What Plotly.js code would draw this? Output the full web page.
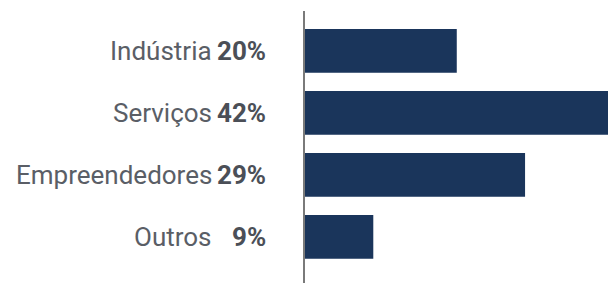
<!DOCTYPE html>
<html>
<head>
<meta charset="utf-8">
<script src="https://cdn.plot.ly/plotly-3.0.1.min.js"></script>
<style>html,body{margin:0;padding:0;background:#fff;}#chart{width:608px;height:283px;}</style>
</head>
<body>
<div id="chart"></div>
<script>
const categories = ["Indústria", "Serviços", "Empreendedores", "Outros"];
const values = [20, 42, 29, 9];
const valueLabels = ["20%", "42%", "29%", "9%"];

const annotations = [];
categories.forEach((c, i) => {
  annotations.push({
    xref: 'paper', yref: 'y', x: 0, y: c, xanchor: 'right', yanchor: 'middle',
    xshift: -91, text: c, showarrow: false,
    font: {family: 'Roboto, sans-serif', size: 26, color: '#5a5e66'}
  });
  annotations.push({
    xref: 'paper', yref: 'y', x: 0, y: c, xanchor: 'right', yanchor: 'middle',
    xshift: -37, text: '<b>' + valueLabels[i] + '</b>', showarrow: false,
    font: {family: 'Roboto, sans-serif', size: 26, color: '#4b4f57'}
  });
});

Plotly.newPlot('chart', [{
  type: 'bar', orientation: 'h',
  x: values, y: categories,
  width: 0.705,
  marker: {color: '#1a355b'},
  hoverinfo: 'none'
}], {
  width: 608, height: 283,
  margin: {l: 305, r: 0, t: 11, b: 0, pad: 0},
  paper_bgcolor: '#fff', plot_bgcolor: '#fff',
  showlegend: false,
  xaxis: {range: [0, 39.93], visible: false, showgrid: false, zeroline: false, fixedrange: true},
  yaxis: {type: 'category', categoryorder: 'array', categoryarray: categories,
          range: [3.744, -0.643], showticklabels: false, ticks: '',
          showline: true, linecolor: '#7a7a7a', linewidth: 1.7,
          showgrid: false, zeroline: false, fixedrange: true},
  annotations: annotations
}, {displayModeBar: false, staticPlot: true});
</script>
</body>
</html>
